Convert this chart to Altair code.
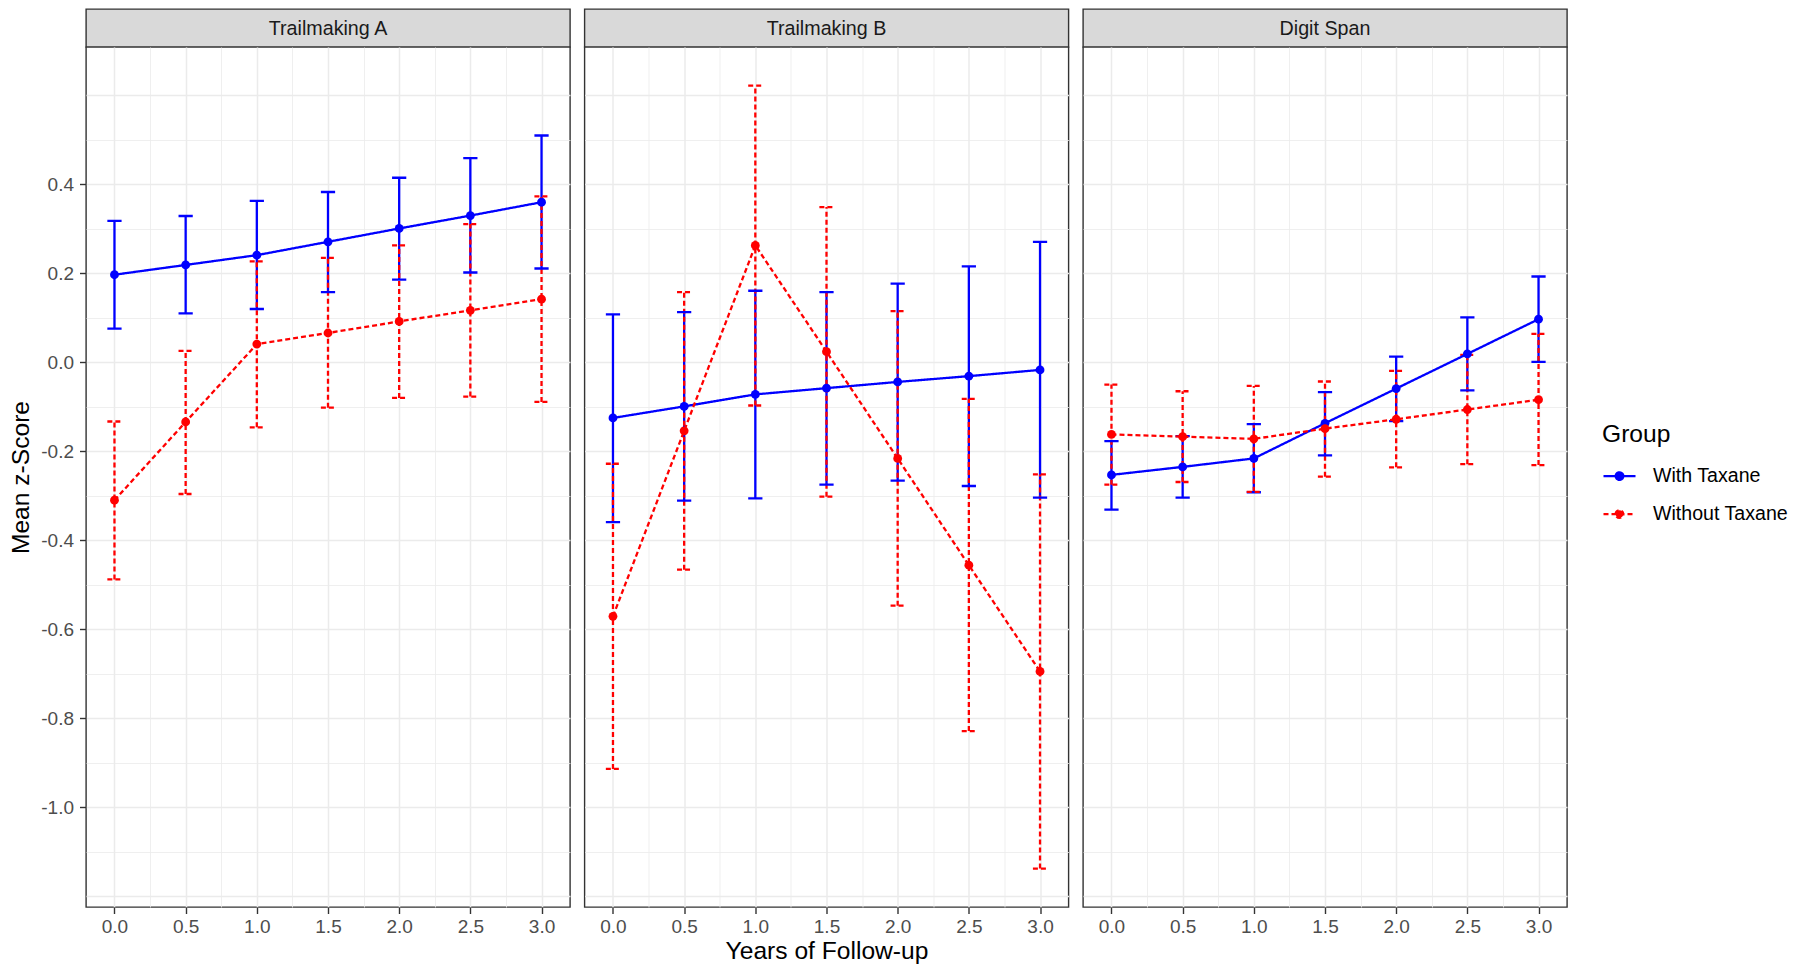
import altair as alt
import pandas as pd

# ---------------- data ----------------
years = [0.0, 0.5, 1.0, 1.5, 2.0, 2.5, 3.0]
tests = ["Trailmaking A", "Trailmaking B", "Digit Span"]
groups = ["With Taxane", "Without Taxane"]

# Trailmaking A
ta_with_mean = [0.197, 0.219, 0.241, 0.271, 0.301, 0.330, 0.360]
ta_with_lo = [0.076, 0.110, 0.120, 0.158, 0.186, 0.202, 0.211]
ta_with_hi = [0.318, 0.329, 0.363, 0.383, 0.415, 0.459, 0.510]
ta_without_mean = [-0.310, -0.134, 0.041, 0.066, 0.092, 0.117, 0.142]
ta_without_lo = [-0.488, -0.296, -0.146, -0.102, -0.080, -0.077, -0.089]
ta_without_hi = [-0.133, 0.026, 0.227, 0.235, 0.263, 0.311, 0.373]

# Trailmaking B
tb_with_mean = [-0.125, -0.099, -0.072, -0.058, -0.044, -0.031, -0.017]
tb_with_lo = [-0.359, -0.311, -0.306, -0.275, -0.266, -0.278, -0.304]
tb_with_hi = [0.108, 0.113, 0.161, 0.158, 0.177, 0.216, 0.271]
tb_without_mean = [-0.571, -0.154, 0.263, 0.024, -0.216, -0.456, -0.695]
tb_without_lo = [-0.914, -0.466, -0.097, -0.302, -0.547, -0.829, -1.138]
tb_without_hi = [-0.228, 0.158, 0.622, 0.349, 0.115, -0.082, -0.252]

# Digit Span
ds_with_mean = [-0.253, -0.235, -0.216, -0.137, -0.059, 0.019, 0.097]
ds_with_lo = [-0.331, -0.304, -0.292, -0.209, -0.132, -0.063, 0.001]
ds_with_hi = [-0.177, -0.166, -0.139, -0.067, 0.013, 0.101, 0.193]
ds_without_mean = [-0.162, -0.167, -0.172, -0.149, -0.128, -0.106, -0.084]
ds_without_lo = [-0.275, -0.269, -0.291, -0.257, -0.236, -0.229, -0.231]
ds_without_hi = [-0.050, -0.065, -0.053, -0.043, -0.019, 0.017, 0.064]

series = {
    ("Trailmaking A", "With Taxane"): (ta_with_mean, ta_with_lo, ta_with_hi),
    ("Trailmaking A", "Without Taxane"): (ta_without_mean, ta_without_lo, ta_without_hi),
    ("Trailmaking B", "With Taxane"): (tb_with_mean, tb_with_lo, tb_with_hi),
    ("Trailmaking B", "Without Taxane"): (tb_without_mean, tb_without_lo, tb_without_hi),
    ("Digit Span", "With Taxane"): (ds_with_mean, ds_with_lo, ds_with_hi),
    ("Digit Span", "Without Taxane"): (ds_without_mean, ds_without_lo, ds_without_hi),
}

rows = []
for (t, g), (m, lo, hi) in series.items():
    for i, yr in enumerate(years):
        rows.append({"test": t, "group": g, "year": yr, "mean": m[i], "lo": lo[i], "hi": hi[i]})
df = pd.DataFrame(rows)
strip_df = pd.DataFrame({"test": tests})

# ---------------- styling ----------------
FONT = "Liberation Sans"
W, H = 484, 860
STRIP_H = 38
CAP = 0.05

x_vals = [i * 0.25 for i in range(13)]
y_vals = [round(-1.2 + 0.1 * i, 1) for i in range(19)]

x_major = "datum.value % 0.5 == 0"
y_major = "abs(round(datum.value * 10)) % 2 == 0"
y_lab = y_major + " && datum.value > -1.05 && datum.value < 0.45"

xscale = alt.Scale(domain=[-0.2, 3.2], nice=False, zero=False)
yscale = alt.Scale(domain=[-1.2245, 0.709], nice=False, zero=False)

grid_w_x = {"condition": {"test": x_major, "value": 1.5}, "value": 0.8}
grid_w_y = {"condition": {"test": y_major, "value": 1.5}, "value": 0.8}

xaxis = alt.Axis(
    values=x_vals,
    labelExpr=x_major + " ? format(datum.value, '.1f') : ''",
    tickColor={"condition": {"test": x_major, "value": "#333333"}, "value": "transparent"},
    gridWidth=grid_w_x,
    labelOverlap=False,
    labelFlush=False,
    labelBound=False,
)

def yaxis(first):
    if first:
        return alt.Axis(
            values=y_vals,
            labelExpr=y_lab + " ? (datum.value < -0.001 ? '-' : '') + format(abs(datum.value), '.1f') : ''",
            tickColor={"condition": {"test": y_lab, "value": "#333333"}, "value": "transparent"},
            gridWidth=grid_w_y,
            labelOverlap=False,
            labelFlush=False,
            labelBound=False,
        )
    return alt.Axis(values=y_vals, labels=False, ticks=False, gridWidth=grid_w_y)

SYMBOL = "M-1,0L1,0M-0.24,0A0.24,0.24,0,1,1,0.24,0A0.24,0.24,0,1,1,-0.24,0Z"
leg = alt.Legend(
    orient="none",
    legendX=1516,
    legendY=414,
    symbolType=SYMBOL,
)

color = alt.Color("group:N", scale=alt.Scale(domain=groups, range=["#0000FF", "#FF0000"]),
                  legend=leg, title="Group")
dash = alt.StrokeDash("group:N", scale=alt.Scale(domain=groups, range=[[1, 0], [5, 3]]),
                      legend=leg, title="Group")


def panel(i, test):
    first = i == 0
    xtitle = "Years of Follow-up" if i == 1 else None
    ytitle = "Mean z-Score" if first else None
    base = alt.Chart(df).transform_filter(alt.datum.test == test)
    X = alt.X("year:Q", scale=xscale, axis=xaxis, title=xtitle)
    bars = base.mark_rule(strokeWidth=2.3).encode(
        x=X,
        y=alt.Y("lo:Q", scale=yscale, axis=yaxis(first), title=ytitle),
        y2="hi:Q",
        color=color,
        strokeDash=dash,
    )
    caps_hi = base.transform_calculate(
        xa=f"datum.year - {CAP}", xb=f"datum.year + {CAP}"
    ).mark_rule(strokeWidth=2.3).encode(
        x=alt.X("xa:Q", scale=xscale), x2="xb:Q",
        y=alt.Y("hi:Q", scale=yscale), color=color, strokeDash=dash,
    )
    caps_lo = base.transform_calculate(
        xa=f"datum.year - {CAP}", xb=f"datum.year + {CAP}"
    ).mark_rule(strokeWidth=2.3).encode(
        x=alt.X("xa:Q", scale=xscale), x2="xb:Q",
        y=alt.Y("lo:Q", scale=yscale), color=color, strokeDash=dash,
    )
    line = base.mark_line(strokeWidth=2.3).encode(
        x=alt.X("year:Q", scale=xscale),
        y=alt.Y("mean:Q", scale=yscale),
        color=color, strokeDash=dash,
    )
    pts = base.mark_circle(size=78, opacity=1).encode(
        x=alt.X("year:Q", scale=xscale),
        y=alt.Y("mean:Q", scale=yscale),
        color=color,
    )
    main = alt.layer(bars, caps_hi, caps_lo, line, pts).properties(width=W, height=H)
    strip = alt.Chart(strip_df).transform_filter(alt.datum.test == test).mark_text(
        font=FONT, fontSize=19.7, color="#1A1A1A", align="center", baseline="middle"
    ).encode(
        text="test:N", x=alt.value(W / 2), y=alt.value(STRIP_H / 2 + 0.5)
    ).properties(
        width=W, height=STRIP_H,
        view=alt.ViewBackground(fill="#D9D9D9", stroke="#333333", strokeWidth=1.4),
    )
    return alt.vconcat(strip, main, spacing=0, bounds="flush")


chart = alt.hconcat(*[panel(i, t) for i, t in enumerate(tests)], spacing=12.5).resolve_scale(
    color="shared", strokeDash="shared"
).properties(
    padding={"left": 0, "top": 0, "right": 0, "bottom": 0}
).configure(
    font=FONT,
    background="white",
).configure_view(
    stroke="#333333", strokeWidth=1.4, fill="white"
).configure_axis(
    labelFont=FONT, labelFontSize=19, labelColor="#4D4D4D",
    titleFont=FONT, titleFontSize=24.6, titleFontWeight="normal", titleColor="#000000",
    tickSize=6.5, tickWidth=1.4, labelPadding=5,
    domain=False, gridColor="#EBEBEB",
).configure_axisX(
    titlePadding=3, labelPadding=4
).configure_axisY(
    titlePadding=7, labelPadding=6
).configure_legend(
    titleFont=FONT, titleFontSize=24.6, titleFontWeight="normal", titleColor="#000000",
    labelFont=FONT, labelFontSize=19.6, labelColor="#000000",
    symbolSize=1024, symbolStrokeWidth=2.2, padding=0, rowPadding=10, titlePadding=11,
    labelOffset=16,
)

chart.save("out.html", embed_options={"renderer": "svg", "actions": False})
